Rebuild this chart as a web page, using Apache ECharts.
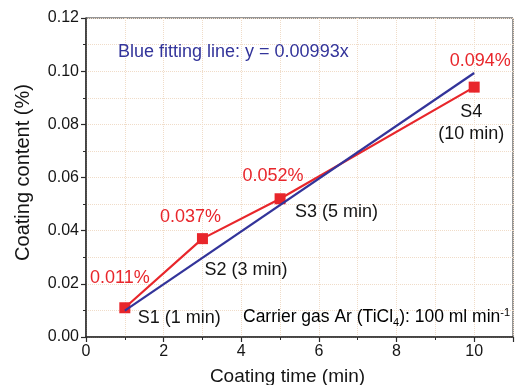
<!DOCTYPE html>
<html>
<head>
<meta charset="utf-8">
<script src="https://cdn.jsdelivr.net/npm/echarts@6/dist/echarts.min.js"></script>
<style>html,body{margin:0;padding:0;background:#fff;}#c{width:515px;height:385px;}</style>
</head>
<body>
<div id="c"></div>
<script>
// Data
const sampleNames = ['S1 (1 min)', 'S2 (3 min)', 'S3 (5 min)', 'S4\n(10 min)'];
const coatingTime = [1, 3, 5, 10];
const coatingContent = [0.011, 0.037, 0.052, 0.094];
const contentLabels = ['0.011%', '0.037%', '0.052%', '0.094%'];
const fitX = [1, 10];
const fitY = [0.00993, 0.0993];
const yTicks = [0, 0.02, 0.04, 0.06, 0.08, 0.10, 0.12];
const xTicks = [0, 2, 4, 6, 8, 10];

const FONT = 'Liberation Sans, Arial, sans-serif';
const RED = '#e8262b';
const BLUE = '#33349a';
const AXIS = '#2b2b2b';
const TXT = '#151515';

// label styling (offsets in px relative to point centre)
const redOffsets = [[-5, -30], [-12, -22], [-7, -23], [6, -26]];
const blackOffsets = [[13, 10], [2, 31], [15, 13], [-3, 36]];
const blackAlign = ['left', 'left', 'left', 'center'];

const chart = echarts.init(document.getElementById('c'), null, {renderer: 'canvas'});

const pts = coatingTime.map((t, i) => [t, coatingContent[i]]);

const option = {
  animation: false,
  backgroundColor: '#fff',
  grid: {left: 86, right: 2, top: 18, bottom: 48, containLabel: false, outerBoundsMode: 'none',
    show: true, borderColor: AXIS, borderWidth: 1, backgroundColor: 'transparent'},
  xAxis: {
    type: 'value', min: 0, max: 11, interval: 2,
    name: 'Coating time (min)', nameLocation: 'middle', nameGap: 30,
    nameTextStyle: {fontFamily: FONT, fontSize: 19, color: TXT, padding: [0, 24, 0, 0]},
    axisLine: {show: true, lineStyle: {color: AXIS, width: 1.5}},
    axisTick: {show: true, inside: false, length: 5, lineStyle: {color: AXIS, width: 1.2}},
    minorTick: {show: true, splitNumber: 2, length: 3, lineStyle: {color: AXIS, width: 1}},
    axisLabel: {fontFamily: FONT, fontSize: 16, color: TXT, margin: 7, showMaxLabel: false,
      formatter: v => xTicks.indexOf(v) >= 0 ? String(v) : ''},
    splitLine: {show: true, lineStyle: {color: '#f0dcc8', width: 1, type: 'dotted'}},
    minorSplitLine: {show: true, lineStyle: {color: '#f0dcc8', width: 1, type: 'dotted'}}
  },
  yAxis: {
    type: 'value', min: 0, max: 0.12, interval: 0.02,
    name: 'Coating content (%)', nameLocation: 'middle', nameGap: 53,
    nameTextStyle: {fontFamily: FONT, fontSize: 20, color: TXT, padding: [0, 0, 0, 10]},
    axisLine: {show: true, lineStyle: {color: AXIS, width: 1.5}},
    axisTick: {show: true, inside: false, length: 5, lineStyle: {color: AXIS, width: 1.2}},
    minorTick: {show: true, splitNumber: 2, length: 3, lineStyle: {color: AXIS, width: 1}},
    axisLabel: {fontFamily: FONT, fontSize: 16, color: TXT, margin: 7,
      formatter: v => { const t = yTicks.find(k => Math.abs(k - v) < 1e-9); return t === undefined ? '' : t.toFixed(2); }},
    splitLine: {show: true, lineStyle: {color: '#f0dcc8', width: 1, type: 'dotted'}},
    minorSplitLine: {show: true, lineStyle: {color: '#f0dcc8', width: 1, type: 'dotted'}}
  },
  series: [
    {
      type: 'line', name: 'measured', data: pts, z: 3,
      symbol: 'rect', symbolSize: 11,
      lineStyle: {color: RED, width: 2.2}, itemStyle: {color: RED},
      label: {show: false}
    },
    {
      type: 'line', name: 'fit', z: 4,
      data: fitX.map((x, i) => [x, fitY[i]]),
      symbol: 'none', lineStyle: {color: BLUE, width: 2.2}
    },
    {
      type: 'scatter', name: 'pct', z: 5, symbolSize: 1, itemStyle: {color: 'rgba(0,0,0,0)', opacity: 1},
      data: pts.map((p, i) => ({
        value: p,
        label: {show: true, position: 'inside', offset: redOffsets[i], formatter: contentLabels[i],
          color: RED, opacity: 1, fontFamily: FONT, fontSize: 18, align: 'center', verticalAlign: 'middle'}
      }))
    },
    {
      type: 'scatter', name: 'names', z: 5, symbolSize: 1, itemStyle: {color: 'rgba(0,0,0,0)', opacity: 1},
      data: pts.map((p, i) => ({
        value: p,
        label: {show: true, position: 'inside', offset: blackOffsets[i], formatter: sampleNames[i],
          color: TXT, opacity: 1, fontFamily: FONT, fontSize: 18, lineHeight: 22, align: blackAlign[i], verticalAlign: 'middle'}
      }))
    }
  ],
  graphic: [
    {type: 'text', left: 118, top: 43, z: 10,
      style: {text: 'Blue fitting line: y = 0.00993x', fill: BLUE, font: '18px ' + FONT}},
    {type: 'text', left: 243, top: 307, z: 10,
      style: {text: '{a|Carrier gas Ar (TiCl}{s|4}{a|): 100 ml min}{p|-1}',
        rich: {
          a: {fontFamily: FONT, fontSize: 17.5, color: TXT},
          s: {fontFamily: FONT, fontSize: 11, color: TXT, padding: [10, 0, 0, 0]},
          p: {fontFamily: FONT, fontSize: 11, color: TXT, padding: [0, 0, 10, 0]}
        }}}
  ]
};
chart.setOption(option);
</script>
</body>
</html>
